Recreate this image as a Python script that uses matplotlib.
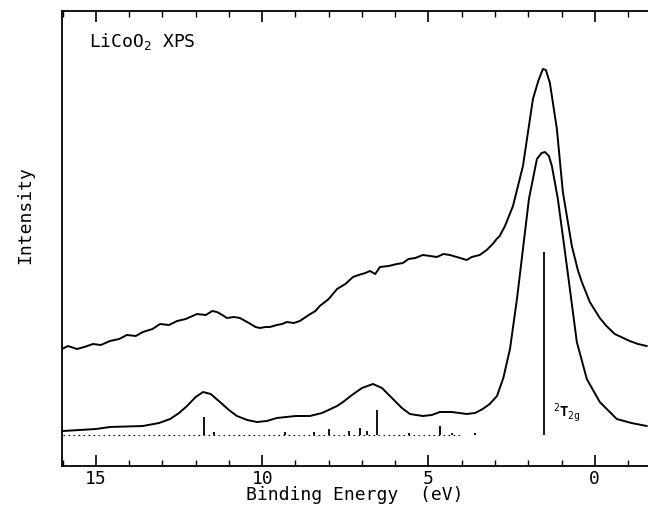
import numpy as np
import matplotlib.pyplot as plt

plt.rcParams['font.family'] = 'DejaVu Sans Mono'
plt.rcParams['mathtext.fontset'] = 'custom'
plt.rcParams['mathtext.rm'] = 'DejaVu Sans Mono'
plt.rcParams['mathtext.it'] = 'DejaVu Sans Mono'

# measured XPS spectrum (binding energy eV, intensity arb.)
xps_E = [16.02, 15.84, 15.57, 15.35, 15.09, 14.85, 14.58, 14.3, 14.07, 13.8, 13.59, 13.3,
         13.07, 12.8, 12.56, 12.3, 11.96, 11.7, 11.5, 11.36, 11.2, 11.06, 10.85, 10.67,
         10.4, 10.2, 10.07, 9.9, 9.77, 9.56, 9.4, 9.26, 9.05, 8.87, 8.6, 8.4, 8.27, 8.0,
         7.75, 7.5, 7.27, 7.1, 6.9, 6.76, 6.6, 6.46, 6.2, 5.95, 5.77, 5.6, 5.4, 5.17,
         4.95, 4.75, 4.55, 4.36, 4.15, 3.95, 3.85, 3.7, 3.46, 3.25, 3.07, 2.95, 2.86,
         2.7, 2.46, 2.16, 1.86, 1.7, 1.56, 1.47, 1.35, 1.14, 0.96, 0.69, 0.51, 0.39,
         0.15, 0.0, -0.15, -0.35, -0.6, -1.05, -1.3, -1.56]
xps_I = [117, 120, 117, 119, 122, 121, 125, 127, 131, 130, 134, 137,
         142, 141, 145, 147, 152, 151, 155, 154, 151, 148, 149, 148,
         143, 139, 138, 139, 139, 141, 142, 144, 143, 145, 151, 155, 160, 167,
         177, 182, 189, 191, 193, 195, 192, 199, 200, 202, 203, 207, 208, 211,
         210, 209, 212, 211, 209, 207, 206, 209, 211, 216, 222, 227, 230,
         240, 260, 300, 367, 385, 397, 396, 383, 337, 274, 220, 196, 184,
         164, 156, 148, 140, 132, 125, 122, 120]

# calculated spectrum
calc_E = [15.99, 15.0, 14.58, 13.59, 13.1, 12.77, 12.5, 12.26, 12.0, 11.78, 11.55, 11.27,
          11.0, 10.76, 10.45, 10.16, 9.86, 9.56, 9.0, 8.57, 8.2, 7.75, 7.57, 7.3, 7.0,
          6.67, 6.4, 6.07, 5.8, 5.56, 5.17, 4.9, 4.66, 4.3, 3.85, 3.6, 3.37, 3.16, 2.94,
          2.75, 2.55, 2.34, 2.16, 1.98, 1.74, 1.6, 1.5, 1.38, 1.29, 1.11, 0.84, 0.54,
          0.24, -0.15, -0.66, -1.1, -1.56]
calc_I = [35, 37, 39, 40, 43, 47, 53, 60, 69, 74, 72, 64,
          56, 50, 46, 44, 45, 48, 50, 50, 53, 60, 64, 71, 78,
          82, 78, 67, 58, 52, 50, 51, 54, 54, 52, 53, 57, 62, 70,
          88, 117, 167, 217, 267, 307, 313, 314, 310, 300, 267, 200, 124,
          87, 64, 47, 43, 40]

# stick spectrum (final states)
stick_E = [11.75, 11.45, 9.3, 8.45, 8.0, 7.4, 7.05, 6.85, 6.55, 5.6, 4.66, 4.3, 3.6, 1.53]
stick_h = [18, 3, 3, 3, 6, 4, 7, 4, 25, 2, 9, 2, 2, 183]
stick_base = 31

fig = plt.figure(figsize=(6.48, 5.06), dpi=100)
ax = fig.add_axes([62/648, 39/506, 1 - 62/648, 455/506])

ax.plot(xps_E, xps_I, 'k-', lw=1.4)
ax.plot(calc_E, calc_I, 'k-', lw=1.4)
ax.plot([16, 4.0], [stick_base, stick_base], 'k', lw=0.8, ls=(0, (1.5, 3)))
ax.vlines(stick_E, stick_base, np.array(stick_h) + stick_base, colors='k', lw=1.3)

ax.text(1.27, 50, r'$^2$T$_{2g}$', fontsize=10, fontweight='bold')
ax.text(15.2, 420, r'LiCoO$_2$ XPS', fontsize=13)

ax.set_xlim(16.02, -1.6)
ax.set_ylim(0, 455)
ax.set_xticks([15, 10, 5, 0])
ax.set_xticks(np.arange(-1, 17, 1), minor=True)
ax.set_yticks([])
ax.tick_params(axis='x', which='major', direction='in', length=8, width=1.2,
               top=True, labelsize=13, pad=2)
ax.tick_params(axis='x', which='minor', direction='in', length=4, width=1,
               top=True)
ax.spines['right'].set_visible(False)
for s in ['left', 'top', 'bottom']:
    ax.spines[s].set_linewidth(1.3)

ax.set_xlabel('Binding Energy  (eV)', fontsize=13, labelpad=-1)
fig.text(25/648, 1 - 215/506, 'Intensity', rotation=90, fontsize=13,
         ha='center', va='center')

plt.savefig('out.png', dpi=100)
